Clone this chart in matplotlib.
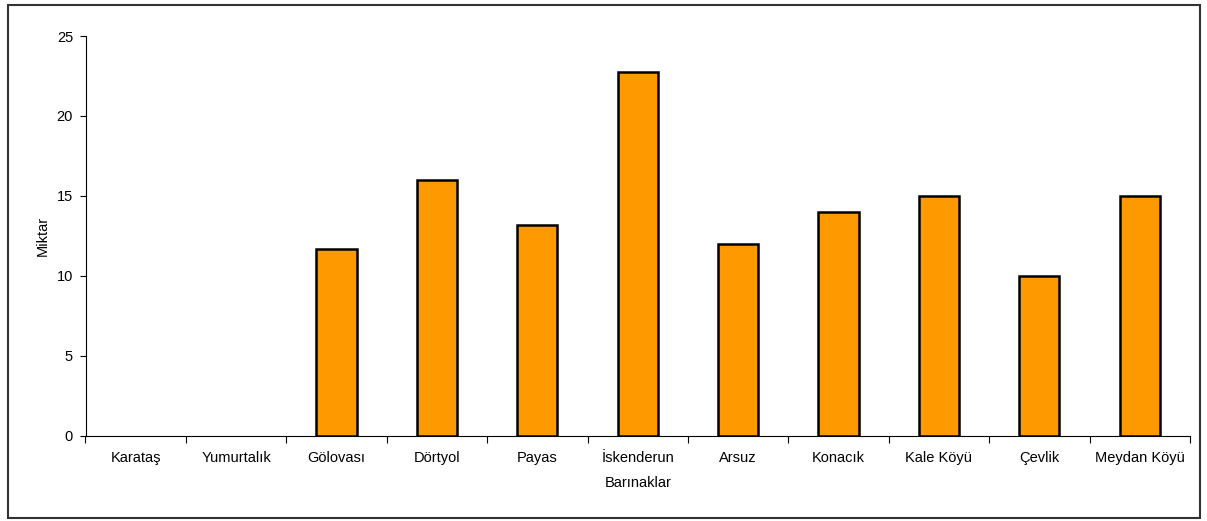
import matplotlib
matplotlib.use("Agg")
import matplotlib.pyplot as plt
from matplotlib.patches import Rectangle
from matplotlib.ticker import FixedLocator, NullFormatter
import numpy as np

categories = ["Karataş", "Yumurtalık", "Gölovası", "Dörtyol", "Payas", "İskenderun",
              "Arsuz", "Konacık", "Kale Köyü", "Çevlik", "Meydan Köyü"]
values = [0, 0, 11.65, 16, 13.2, 22.75, 12, 14, 15, 10, 15]
y_ticks = [0, 5, 10, 15, 20, 25]

plt.rcParams["font.family"] = ["Liberation Sans", "DejaVu Sans"]

W, H = 1207, 521
fig = plt.figure(figsize=(W / 100, H / 100), dpi=100)
ax = fig.add_axes([85.5 / W, 1 - 435.5 / H, (1190 - 85.5) / W, (435.5 - 36) / H])

x = np.arange(len(categories))
# empty categories get no outline, so nothing is drawn along the baseline
edges = ["black" if v > 0 else "none" for v in values]
ax.bar(x, values, width=0.4, color="#FF9900", edgecolor=edges, linewidth=1.8, zorder=3)

ax.set_xlim(-0.5, len(categories) - 0.5)
ax.set_ylim(0, 25)
ax.set_yticks(y_ticks)
ax.set_xticks(x)
ax.set_xticklabels(categories)
ax.xaxis.set_minor_locator(FixedLocator(np.arange(len(categories) + 1) - 0.5))
ax.xaxis.set_minor_formatter(NullFormatter())
ax.tick_params(axis="x", which="major", length=0, pad=11, labelsize=10.5)
ax.tick_params(axis="x", which="minor", length=5, width=0.8, direction="out")
ax.tick_params(axis="y", length=4.5, width=0.8, pad=4.5, labelsize=10.5, direction="out")

for side in ("top", "right"):
    ax.spines[side].set_visible(False)
for side in ("left", "bottom"):
    ax.spines[side].set_linewidth(0.8)

ax.set_xlabel("Barınaklar", fontsize=10.5, labelpad=8)
ax.set_ylabel("Miktar", fontsize=10.5, labelpad=5)

fig.patches.append(Rectangle((7.5 / W, 3.5 / H), (1200 - 7.5) / W, (516.5 - 3.5) / H,
                             transform=fig.transFigure, fill=False,
                             edgecolor="#333333", linewidth=1.5))

fig.savefig("out.png", dpi=100)
